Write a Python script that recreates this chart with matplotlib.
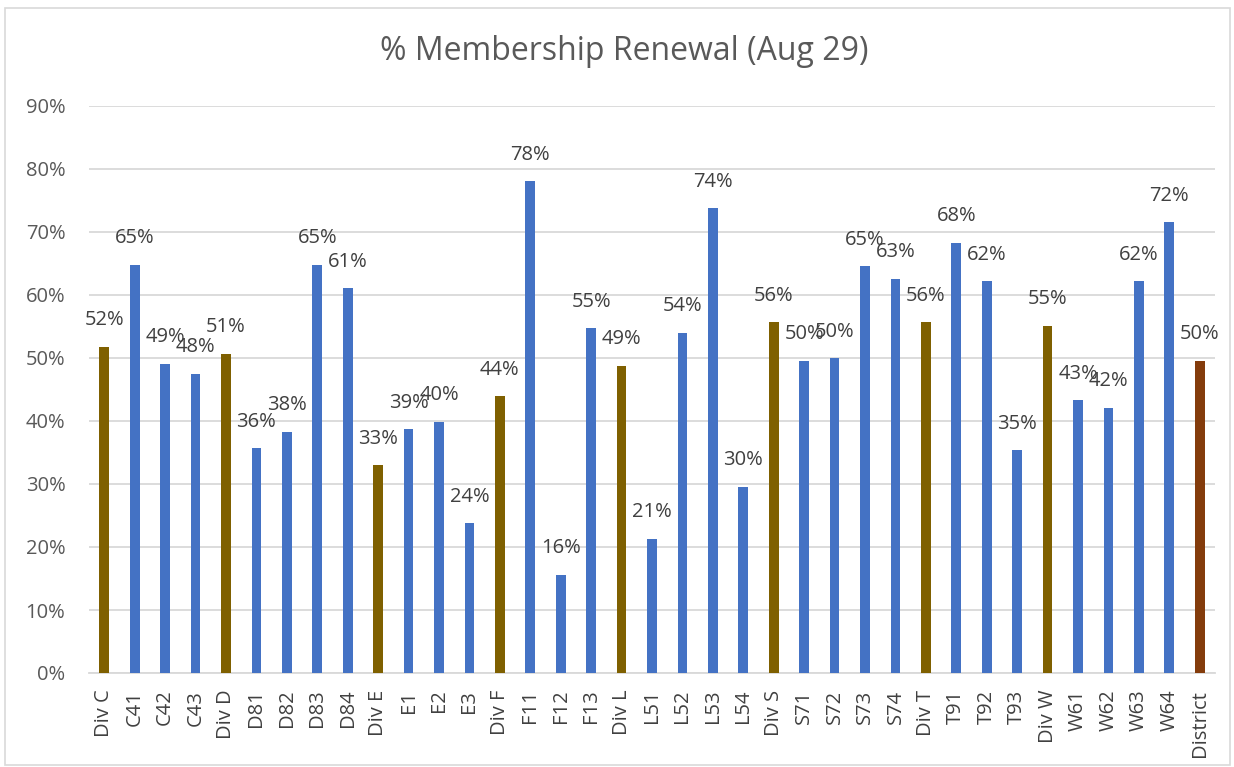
import matplotlib.pyplot as plt
from matplotlib.patches import Rectangle
from matplotlib.ticker import PercentFormatter

plt.rcParams['font.family'] = ['Open Sans', 'DejaVu Sans']

categories = ['Div C', 'C41', 'C42', 'C43', 'Div D', 'D81', 'D82', 'D83', 'D84',
              'Div E', 'E1', 'E2', 'E3', 'Div F', 'F11', 'F12', 'F13',
              'Div L', 'L51', 'L52', 'L53', 'L54', 'Div S', 'S71', 'S72', 'S73', 'S74',
              'Div T', 'T91', 'T92', 'T93', 'Div W', 'W61', 'W62', 'W63', 'W64', 'District']
renewal = [0.518, 0.648, 0.491, 0.475, 0.507, 0.357, 0.383, 0.648, 0.611,
           0.330, 0.387, 0.399, 0.238, 0.439, 0.781, 0.156, 0.547,
           0.488, 0.213, 0.540, 0.738, 0.296, 0.557, 0.496, 0.500, 0.646, 0.626,
           0.557, 0.683, 0.622, 0.354, 0.551, 0.433, 0.421, 0.622, 0.716, 0.496]

blue = '#4472C4'
gold = '#7F6000'
brown = '#843C0C'
colors = []
for c in categories:
    if c == 'District':
        colors.append(brown)
    elif c.startswith('Div'):
        colors.append(gold)
    else:
        colors.append(blue)

W, H = 1234, 767
fig = plt.figure(figsize=(W / 100, H / 100), dpi=100)
fig.patches.append(Rectangle((5 / W, 2 / H), 1 - 9 / W, 1 - 10 / H, transform=fig.transFigure,
                             fill=False, edgecolor='#D9D9D9', linewidth=1.2))

ax = fig.add_axes([89 / W, 1 - 673 / H, (1215 - 89) / W, (673 - 106) / H])
x = range(len(categories))
ax.bar(x, renewal, width=0.32, color=colors, zorder=3)

for xi, v in zip(x, renewal):
    ax.annotate(f'{v:.0%}', (xi, v), xytext=(0, 19), textcoords='offset points',
                ha='center', va='center', fontsize=14.5, color='#404040', zorder=4)

ax.set_xlim(-0.5, len(categories) - 0.5)
ax.set_ylim(0, 0.9)
ax.set_yticks([i / 10 for i in range(10)])
ax.yaxis.set_major_formatter(PercentFormatter(1.0, decimals=0))
ax.set_xticks(list(x))
ax.set_xticklabels(categories, rotation=90, fontsize=14.5, color='#404040')
ax.tick_params(axis='y', length=0, pad=17, labelsize=14.5, labelcolor='#595959')
ax.tick_params(axis='x', length=0, pad=12)
ax.grid(axis='y', color='#D9D9D9', linewidth=1.3, zorder=0)
for s in ['top', 'right', 'left']:
    ax.spines[s].set_visible(False)
ax.spines['bottom'].set_color('#D9D9D9')
ax.spines['bottom'].set_linewidth(1.3)

fig.text(0.506, 1 - 52 / H, '% Membership Renewal (Aug 29)', ha='center', va='center',
         fontsize=23, color='#595959')

fig.savefig('out.png', dpi=100)
